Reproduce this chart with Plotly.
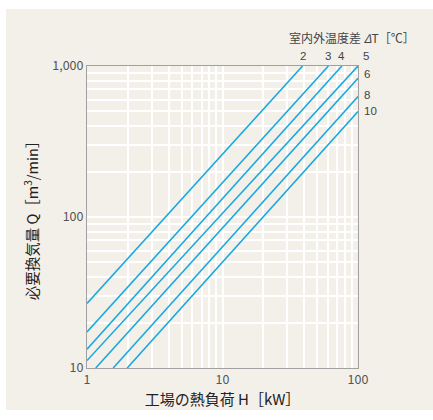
import math
import plotly.graph_objects as go

# ΔT lines, read as endpoints (H [kW], Q [m3/min])
delta_t = ["2", "3", "4", "5", "6", "8", "10"]
h_start = [1, 1, 1, 1, 1.16, 1.56, 1.98]
q_start = [26.8, 17.3, 13.3, 11.2, 10, 10, 10]
h_end = [39, 60.5, 76, 100, 100, 100, 100]
q_end = [1000, 1000, 1000, 1000, 830, 628, 500]

x_ticks = [1, 2, 3, 4, 5, 6, 7, 8, 9, 10, 20, 30, 40, 50, 60, 70, 80, 90, 100]
y_ticks = [10, 20, 30, 40, 50, 60, 70, 80, 90, 100, 200, 300, 400, 500, 600, 700, 800, 900, 1000]
x_labels = {1: "1", 10: "10", 100: "100"}
y_labels = {10: "10", 100: "100", 1000: "1,000"}

LINE = "#1aa9e0"
FONT = "Noto Sans CJK JP, Liberation Sans, sans-serif"
LABEL_FONT = dict(size=11.5, color="#444", family="Liberation Sans, Arial, sans-serif")
# label offsets in pixels (style only)
label_dx = {"2": 0, "3": 0, "4": 0, "5": 8, "6": 4, "8": 4, "10": 4}
label_dy = {"2": 2, "3": 2, "4": 2, "5": 2, "6": 4, "8": 2, "10": 0}

fig = go.Figure()
for dt, h0, q0, h1, q1 in zip(delta_t, h_start, q_start, h_end, q_end):
    fig.add_trace(go.Scatter(x=[h0, h1], y=[q0, q1], mode="lines",
                             line=dict(color=LINE, width=1.6), name=dt,
                             showlegend=False, hoverinfo="skip"))
    if q1 >= 1000:
        fig.add_annotation(x=math.log10(h1), y=math.log10(q1), xref="x", yref="y",
                           text=dt, showarrow=False, yanchor="bottom",
                           yshift=label_dy[dt], xshift=label_dx[dt],
                           font=LABEL_FONT)
    else:
        fig.add_annotation(x=math.log10(h1), y=math.log10(q1), xref="x", yref="y",
                           text=dt, showarrow=False, xanchor="left",
                           xshift=label_dx[dt], yshift=label_dy[dt],
                           font=LABEL_FONT)

W, H = 433, 420
L, R, T, B = 87, 75, 66, 52
pw, ph = W - L - R, H - T - B


def px(xp):
    return (xp - L) / pw


def py(yp):
    return (H - B - yp) / ph


fig.add_shape(type="rect", xref="paper", yref="paper", layer="below",
              x0=px(6), x1=px(433), y0=py(410), y1=py(9),
              fillcolor="#f3f0ea", line=dict(width=0))

fig.add_annotation(x=px(287), y=py(38), xref="paper", yref="paper",
                   text="室内外温度差 <i>Δ</i>T［℃］", showarrow=False,
                   xanchor="left", yanchor="middle",
                   font=dict(size=12, color="#444", family=FONT))

fig.update_xaxes(type="log", range=[0, 2], tickvals=x_ticks,
                 ticktext=[x_labels.get(v, "") for v in x_ticks],
                 showgrid=True, gridcolor="white", gridwidth=1.6,
                 showline=True, linecolor="#a0a0a0", linewidth=1, mirror=True,
                 ticks="", zeroline=False,
                 tickfont=dict(size=12.5, color="#555", family=FONT),
                 title=dict(text="工場の熱負荷 H［kW］", standoff=7,
                            font=dict(size=15, color="#222", family=FONT)))
fig.update_yaxes(type="log", range=[1, 3], tickvals=y_ticks,
                 ticktext=[y_labels.get(v, "") for v in y_ticks],
                 showgrid=True, gridcolor="white", gridwidth=1.6,
                 showline=True, linecolor="#a0a0a0", linewidth=1, mirror=True,
                 ticks="", zeroline=False,
                 tickfont=dict(size=12.5, color="#555", family=FONT),
                 title=dict(text="必要換気量 Q［m<sup>3</sup>/min］", standoff=10,
                            font=dict(size=14.5, color="#222", family=FONT)))

fig.update_layout(width=W, height=H, margin=dict(l=L, r=R, t=T, b=B),
                  paper_bgcolor="white", plot_bgcolor="#dae6f2",
                  showlegend=False)

fig.write_html("out.html", config={"displayModeBar": False},
               post_script="document.body.style.margin='0';document.body.style.padding='0';")
